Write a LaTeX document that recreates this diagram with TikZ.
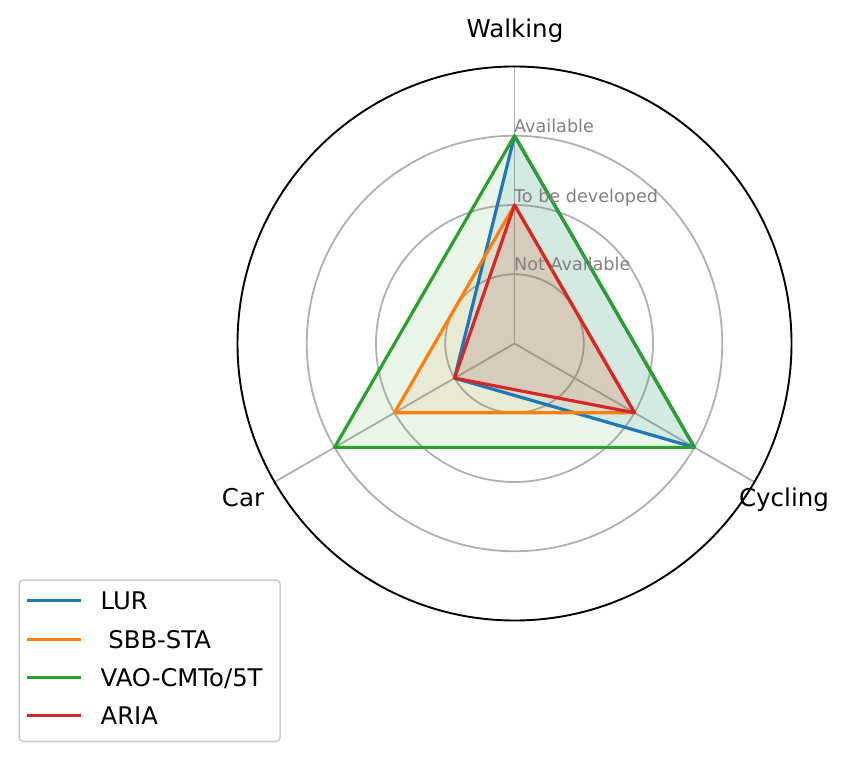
\documentclass[tikz,border=0pt]{standalone}
\usepackage{fontspec}
\setmainfont{DejaVu Sans}
\definecolor{tabblue}{HTML}{1F77B4}
\definecolor{taborange}{HTML}{FF7F0E}
\definecolor{tabgreen}{HTML}{2CA02C}
\definecolor{tabred}{HTML}{D62728}
\definecolor{gridgray}{HTML}{B0B0B0}
\definecolor{ticktext}{HTML}{808080}
\definecolor{legendframe}{HTML}{CCCCCC}
\tikzset{
  gridline/.style={draw=gridgray, line width=1.8pt},
  spine/.style={draw=black, line width=1.9pt},
  series/.style={line width=3.2pt, line join=round},
  area/.style={fill=#1, fill opacity=0.1, draw=none},
  catlabel/.style={font=\fontsize{24.5}{28}\selectfont, inner sep=0pt, anchor=base},
  ticklabel/.style={font=\fontsize{17.6}{20}\selectfont, text=ticktext, inner sep=0pt, anchor=base west},
  legtext/.style={font=\fontsize{24.3}{28}\selectfont, inner sep=0pt, anchor=base west},
  legline/.style={line width=3.2pt},
}
\begin{document}
\begin{tikzpicture}[x=1pt,y=1pt]
\useasboundingbox (0,0) rectangle (850,759);
\coordinate (O) at (514.5,415.5);
\begin{scope}[shift={(514.5,415.5)}]
  % grid circles
  \foreach \r in {1,2,3} \draw[gridline] (0,0) circle ({\r*69.25});
  % spokes
  \coordinate (SW) at (90:277);
  \coordinate (SC) at (-30:277);
  \coordinate (SA) at (210:277);
  \draw[gridline] (O) -- (SW);
  \draw[gridline] (O) -- (SC);
  \draw[gridline] (O) -- (SA);
  % data points
  \coordinate (W1) at (90:69.25);  \coordinate (W2) at (90:138.5);  \coordinate (W3) at (90:207.75);
  \coordinate (C1) at (-30:69.25); \coordinate (C2) at (-30:138.5); \coordinate (C3) at (-30:207.75);
  \coordinate (A1) at (210:69.25); \coordinate (A2) at (210:138.5); \coordinate (A3) at (210:207.75);
  % fills
  \path[area=tabblue]   (W3) -- (C3) -- (A1) -- cycle;
  \path[area=taborange] (W2) -- (C2) -- (A2) -- cycle;
  \path[area=tabgreen]  (W3) -- (C3) -- (A3) -- cycle;
  \path[area=tabred]    (W2) -- (C2) -- (A1) -- cycle;
  % lines
  \draw[series, tabblue]   (W3) -- (C3) -- (A1) -- cycle;
  \draw[series, taborange] (W2) -- (C2) -- (A2) -- cycle;
  \draw[series, tabgreen]  (W3) -- (C3) -- (A3) -- cycle;
  \draw[series, tabred]    (W2) -- (C2) -- (A1) -- cycle;
  % outer spine
  \draw[spine] (0,0) circle (277);
\end{scope}
% tick labels
\node[ticklabel] (t3) at (514,626.7) {Available};
\node[ticklabel] (t2) at (514,556.3) {To be developed};
\node[ticklabel] (t1) at (514,488) {Not Available};
% category labels
\node[catlabel] (lw) at (515,721) {Walking};
\node[catlabel] (lc) at (784,252.5) {Cycling};
\node[catlabel] (la) at (243,252) {Car};
% legend
\node[draw=legendframe, line width=1.6pt, rounded corners=4pt, fill=white, fill opacity=0.8,
      minimum width=261pt, minimum height=161.4pt, inner sep=0pt, anchor=north west] (leg) at (18.3,179.7) {};
\coordinate (l1a) at (27.3,158.3); \coordinate (l1b) at (80.7,158.3);
\coordinate (l2a) at (27.3,119.7); \coordinate (l2b) at (80.7,119.7);
\coordinate (l3a) at (27.3,81.3);  \coordinate (l3b) at (80.7,81.3);
\coordinate (l4a) at (27.3,43.3);  \coordinate (l4b) at (80.7,43.3);
\draw[legline, tabblue]   (l1a) -- (l1b);
\draw[legline, taborange] (l2a) -- (l2b);
\draw[legline, tabgreen]  (l3a) -- (l3b);
\draw[legline, tabred]    (l4a) -- (l4b);
\node[legtext] (g1) at (100.5,149.5) {LUR};
\node[legtext] (g2) at (100.5,110.9) {\ SBB-STA};
\node[legtext] (g3) at (100.5,72.5) {VAO-CMTo/5T};
\node[legtext] (g4) at (100.5,34.5) {ARIA};
\end{tikzpicture}
\end{document}
